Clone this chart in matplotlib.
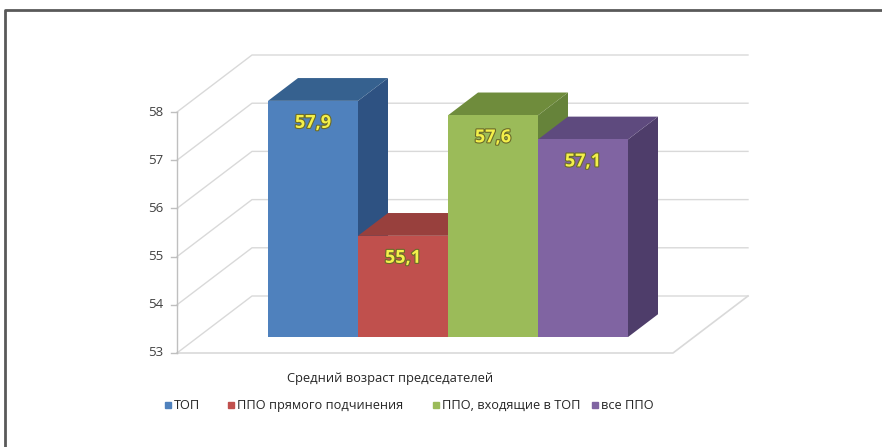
import matplotlib
matplotlib.use("Agg")
import matplotlib.pyplot as plt
from matplotlib.patches import Polygon
import matplotlib.patheffects as pe

# ---- data ----
categories = ["ТОП", "ППО прямого подчинения", "ППО, входящие в ТОП", "все ППО"]
values = [57.9, 55.1, 57.6, 57.1]
value_labels = ["57,9", "55,1", "57,6", "57,1"]
y_ticks = [53, 54, 55, 56, 57, 58]
group_label = "Средний возраст председателей"

front_colors = ["#4F81BD", "#C0504D", "#9BBB59", "#8064A2"]
top_colors = ["#36618F", "#98403D", "#6F8C3C", "#5E4A7E"]
side_colors = ["#2E5282", "#8A3735", "#66833A", "#4E3D6A"]

plt.rcParams['font.family'] = ['Open Sans', 'DejaVu Sans']

W, H = 882, 447
fig = plt.figure(figsize=(W / 100, H / 100), dpi=100)
ax = fig.add_axes([0, 0, 1, 1])
ax.set_axis_off()

# front-plane mapping: x 0..1 spans 177..673 px; value 53..58 spans 353..112 px
px_x0, px_x1 = 177, 673
px_y53, px_y58 = 353, 112
sx = (px_x1 - px_x0)
sy = (px_y53 - px_y58) / 5.0
ax.set_xlim(-px_x0 / sx, (W - px_x0) / sx)
ax.set_ylim(53 - (H - px_y53) / sy, 53 + px_y53 / sy)

def px2x(px):
    return (px - px_x0) / sx

def py2v(py):
    return 53 - (py - px_y53) / sy

# depth offsets (full depth)
DX = 75 / sx
DY = 57 / sy
vmin = 53

def proj(x, v, z):
    return (x + z * DX, v + z * DY)

grid_c = "#D9D9D9"
# back wall + side wall gridlines
for t in y_ticks:
    xs, ys = zip(proj(0, t, 0), proj(0, t, 1), proj(1, t, 1))
    ax.plot(xs, ys, color=grid_c, lw=1.0, zorder=1)
# floor
xs, ys = zip(proj(0, vmin, 0), proj(1, vmin, 0), proj(1, vmin, 1))
ax.plot(xs, ys, color=grid_c, lw=1.2, zorder=1)
# vertical axis line & ticks
ax.plot([0, 0], [y_ticks[0], y_ticks[-1]], color="#BFBFBF", lw=1.0, zorder=2)
for t in y_ticks:
    ax.plot([-6 / sx, 0], [t, t], color="#BFBFBF", lw=1.0, zorder=2)
    ax.text(-14 / sx, t, str(t), ha="right", va="center", fontsize=9.5,
            color="#404040")

# bars
bar_x0 = px2x(247)
bar_w = 90 / sx
z0, z1 = 0.28, 0.68
for i, v in enumerate(values):
    xl = bar_x0 + i * bar_w
    xr = xl + bar_w
    side = [proj(xr, vmin, z0), proj(xr, vmin, z1), proj(xr, v, z1), proj(xr, v, z0)]
    top = [proj(xl, v, z0), proj(xr, v, z0), proj(xr, v, z1), proj(xl, v, z1)]
    front = [proj(xl, vmin, z0), proj(xr, vmin, z0), proj(xr, v, z0), proj(xl, v, z0)]
    zb = 3 + i
    ax.add_patch(Polygon(side, closed=True, fc=side_colors[i], ec="none", zorder=zb))
    ax.add_patch(Polygon(top, closed=True, fc=top_colors[i], ec="none", zorder=zb))
    ax.add_patch(Polygon(front, closed=True, fc=front_colors[i], ec="none", zorder=zb))
    cx, cy = proj((xl + xr) / 2, v, z0)
    ax.text(cx, cy - 22 / sy, value_labels[i], ha="center", va="center",
            fontsize=13, fontweight="bold", color="#F4F04A", zorder=20,
            path_effects=[pe.withStroke(linewidth=1.6, foreground="#6B6B2A")])

# category label
ax.text(px2x(390), py2v(378), group_label,
        ha="center", va="center", fontsize=9.3, color="#262626")

# legend (manual placement)
leg_sq_px = [168, 231, 436, 595]
leg_y = py2v(405)
for c, name, sqx in zip(front_colors, categories, leg_sq_px):
    ax.plot([px2x(sqx)], [leg_y], marker="s", ms=5, mfc=c, mec=c, ls="none",
            zorder=10)
    ax.text(px2x(sqx + 6), leg_y, name, ha="left", va="center",
            fontsize=9.2, color="#262626")

# partial border (top and left)
ax.plot([px2x(5), px2x(5), px2x(W)],
        [py2v(H), py2v(10), py2v(10)],
        color="#595959", lw=2, zorder=30, clip_on=False)

fig.savefig("out.png", dpi=100)
